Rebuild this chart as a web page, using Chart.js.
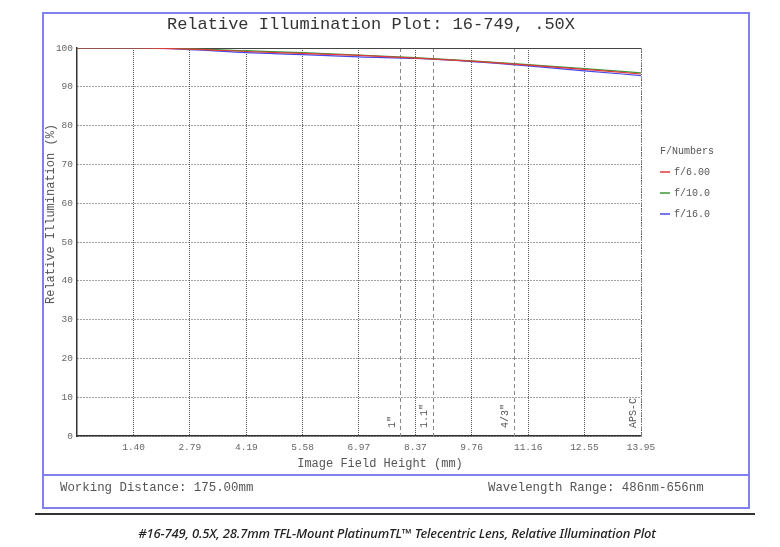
<!DOCTYPE html>
<html>
<head>
<meta charset="utf-8">
<script src="https://cdn.jsdelivr.net/npm/chart.js@4"></script>
<style>
  body { margin: 0; background: #fff; }
  #wrap { position: relative; width: 780px; height: 547px; overflow: hidden; font-family: "Liberation Mono", "DejaVu Sans Mono", monospace; }
  #box { position: absolute; left: 42px; top: 12px; width: 704px; height: 493px; border: 2px solid #8080ee; }
  #sep { position: absolute; left: 42px; top: 474px; width: 706px; height: 2px; background: #8080ee; }
  #chart { position: absolute; left: 0; top: 0; }
  .t { position: absolute; white-space: nowrap; color: #555; }
  #title { left: 0; width: 742px; top: 15px; text-align: center; font-size: 17px; color: #333; }
  #xtitle { left: 380px; top: 457px; transform: translateX(-50%); font-size: 12px; }
  #ytitle { left: 51px; top: 214px; transform: translate(-50%, -50%) rotate(-90deg); font-size: 12px; }
  #wd { left: 60px; top: 481px; font-size: 12.4px; }
  #wl { left: 488px; top: 481px; font-size: 12.4px; }
  #rule { position: absolute; left: 35px; top: 513px; width: 720px; height: 2px; background: #333; }
  #caption { position: absolute; left: 0; width: 794px; top: 524px; text-align: center; font-family: "Noto Sans", sans-serif; font-style: italic; font-weight: 500; font-size: 13px; color: #222; letter-spacing: -0.15px; }
  #legend { position: absolute; left: 660px; top: 145px; font-size: 10px; color: #555; }
  #legend .row { position: relative; height: 21px; line-height: 14px; }
  #legend .sw { display: inline-block; width: 10px; height: 2px; vertical-align: middle; margin-right: 4px; opacity: 0.75; }
</style>
</head>
<body>
<div id="wrap">
  <div id="box"></div>
  <div id="sep"></div>
  <canvas id="chart" width="780" height="547"></canvas>
  <div class="t" id="title">Relative Illumination Plot: 16-749, .50X</div>
  <div class="t" id="ytitle">Relative Illumination (%)</div>
  <div class="t" id="xtitle">Image Field Height (mm)</div>
  <div class="t" id="wd">Working Distance: 175.00mm</div>
  <div class="t" id="wl">Wavelength Range: 486nm-656nm</div>
  <div id="legend"></div>
  <div id="rule"></div>
  <div id="caption">#16-749, 0.5X, 28.7mm TFL-Mount PlatinumTL™ Telecentric Lens, Relative Illumination Plot</div>
</div>
<script>
// field height (mm)
const fieldHeight = [0, 1.40, 2.79, 4.19, 5.58, 6.97, 8.37, 9.76, 11.16, 12.55, 13.95];

// relative illumination (%) per f-number
const f6 = [100, 100, 99.7, 99.1, 98.6, 98.1, 97.4, 96.6, 95.6, 94.5, 93.3];
const f10 = [100, 100, 99.8, 99.3, 98.8, 98.2, 97.5, 96.7, 95.7, 94.7, 93.6];
const f16 = [100, 100, 99.6, 98.8, 98.3, 97.7, 97.3, 96.5, 95.4, 94.1, 92.9];

const seriesNames = ["f/6.00", "f/10.0", "f/16.0"];
const seriesColors = ["#e03a3a", "#3a9a3a", "#4848ee"];

const xTickLabels = ["1.40", "2.79", "4.19", "5.58", "6.97", "8.37", "9.76", "11.16", "12.55", "13.95"];

// sensor format half-diagonals (mm)
const sensorNames = ['1"', '1.1"', '4/3"', 'APS-C'];
const sensorPos = [8.0, 8.8, 10.8, 13.95];

const toPts = ys => ys.map((y, i) => ({ x: fieldHeight[i], y: y }));

const legend = document.getElementById('legend');
legend.innerHTML = '<div class="row">F/Numbers</div>' + seriesNames.map((n, i) =>
  '<div class="row"><span class="sw" style="background:' + seriesColors[i] + '"></span>' + n + '</div>').join('');

const frame = {
  id: 'frame',
  beforeDatasetsDraw(chart) {
    const { ctx, chartArea: a, scales: { x } } = chart;
    ctx.save();
    // sensor size markers
    ctx.strokeStyle = '#888';
    ctx.lineWidth = 1;
    ctx.setLineDash([4, 3]);
    sensorPos.forEach(v => {
      const px = Math.round(x.getPixelForValue(v)) + 0.5;
      ctx.beginPath(); ctx.moveTo(px, a.top); ctx.lineTo(px, a.bottom); ctx.stroke();
    });
    ctx.setLineDash([]);
    // top edge
    ctx.strokeStyle = '#444';
    ctx.beginPath(); ctx.moveTo(a.left, a.top + 0.5); ctx.lineTo(a.right, a.top + 0.5); ctx.stroke();
    // marker labels
    ctx.fillStyle = '#555';
    ctx.font = '10px "Liberation Mono", monospace';
    ctx.textAlign = 'left';
    ctx.textBaseline = 'middle';
    sensorNames.forEach((n, i) => {
      const px = x.getPixelForValue(sensorPos[i]) - 8;
      ctx.save();
      ctx.translate(px, a.bottom - 8);
      ctx.rotate(-Math.PI / 2);
      ctx.fillText(n, 0, 0);
      ctx.restore();
    });
    ctx.restore();
  }
};

new Chart(document.getElementById('chart'), {
  type: 'line',
  data: {
    datasets: [f6, f10, f16].map((d, i) => ({
      label: seriesNames[i],
      data: toPts(d),
      borderColor: seriesColors[i],
      backgroundColor: seriesColors[i],
      borderWidth: 1.2,
      pointRadius: 0,
      cubicInterpolationMode: 'monotone'
    }))
  },
  options: {
    responsive: false,
    animation: false,
    layout: { padding: { left: 42, top: 48, right: 139, bottom: 91 } },
    plugins: { legend: { display: false }, tooltip: { enabled: false } },
    scales: {
      x: {
        type: 'linear', min: 0, max: 13.95,
        afterFit: s => { s.height = 20; },
        afterBuildTicks: s => { s.ticks = xTickLabels.map(t => ({ value: parseFloat(t) })); },
        ticks: {
          padding: 6, maxRotation: 0, autoSkip: false,
          color: '#666', font: { family: '"Liberation Mono", monospace', size: 9.5 },
          callback: (v, i) => xTickLabels[i]
        },
        grid: { color: '#555', drawTicks: false },
        border: { display: true, color: '#333', width: 1.5, dash: [1, 1] }
      },
      y: {
        min: 0, max: 100,
        afterFit: s => { s.width = 35; },
        ticks: {
          stepSize: 10, padding: 4,
          color: '#666', font: { family: '"Liberation Mono", monospace', size: 9.5 }
        },
        grid: { color: '#444', drawTicks: false },
        border: { display: true, color: '#333', width: 1.5, dash: [1, 2] }
      }
    }
  },
  plugins: [frame]
});
</script>
</body>
</html>
